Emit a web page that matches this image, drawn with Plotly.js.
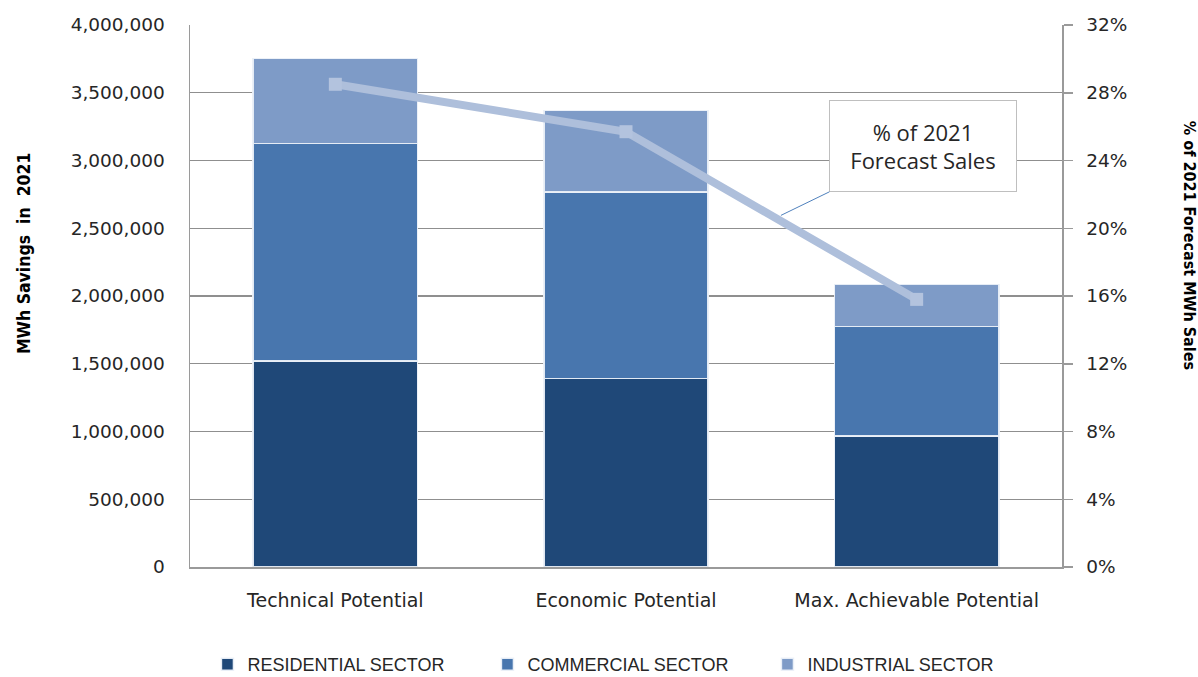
<!DOCTYPE html>
<html>
<head>
<meta charset="utf-8">
<script src="https://cdn.plot.ly/plotly-3.0.1.min.js"></script>
<style>html,body{margin:0;padding:0;background:#fff;}#chart{width:1198px;height:677px;}</style>
</head>
<body>
<div id="chart"></div>
<script>
const categories = ["Technical Potential", "Economic Potential", "Max. Achievable Potential"];
const residential = [1520000, 1390000, 965000];
const commercial = [1605000, 1377000, 809000];
const industrial = [627000, 601000, 312000];
const pctForecastSales = [0.285, 0.257, 0.158];
const seriesNames = ["RESIDENTIAL SECTOR", "COMMERCIAL SECTOR", "INDUSTRIAL SECTOR"];
const leftTickVals = [0, 500000, 1000000, 1500000, 2000000, 2500000, 3000000, 3500000, 4000000];
const rightTickVals = [0, 0.04, 0.08, 0.12, 0.16, 0.20, 0.24, 0.28, 0.32];

const barLine = {color: "rgba(235,240,248,0.95)", width: 1.5};
const traces = [
  {type: "bar", name: seriesNames[0], x: categories, y: residential, marker: {color: "#1F4878", line: barLine}},
  {type: "bar", name: seriesNames[1], x: categories, y: commercial, marker: {color: "#4876AE", line: barLine}},
  {type: "bar", name: seriesNames[2], x: categories, y: industrial, marker: {color: "#7E9BC7", line: barLine}},
  {type: "scatter", mode: "lines+markers", name: "% of 2021 Forecast Sales", x: categories, y: pctForecastSales, yaxis: "y2",
   showlegend: false, line: {color: "#AEBFDB", width: 8}, marker: {symbol: "square", size: 13, color: "#B3C3DE"}}
];

const tickFont = {family: "DejaVu Sans, Verdana, sans-serif", size: 18.5, color: "#262626"};
const catFont = {family: "DejaVu Sans, Verdana, sans-serif", size: 19, color: "#262626"};
const layout = {
  width: 1198, height: 677,
  margin: {l: 190, r: 136, t: 25, b: 110, autoexpand: false},
  paper_bgcolor: "#ffffff", plot_bgcolor: "#ffffff",
  barmode: "stack", bargap: 0.435,
  showlegend: true,
  legend: {orientation: "h", traceorder: "normal", x: 0.02, xanchor: "left", y: -0.214, yanchor: "bottom",
    font: {family: "Liberation Sans, Arial, sans-serif", size: 18, color: "#262626"}, entrywidth: 235, entrywidthmode: "pixels"},
  xaxis: {type: "category", showline: true, linecolor: "#9a9a9a", linewidth: 1.5, showgrid: false, ticks: "",
    tickfont: catFont, ticklabelstandoff: 16, fixedrange: true},
  yaxis: {range: [0, 4000000], tickvals: leftTickVals, tickformat: ",", showline: true, linecolor: "#9a9a9a", linewidth: 1.5,
    showgrid: true, gridcolor: "#8f8f8f", gridwidth: 1.2, zeroline: false, ticks: "outside", ticklen: 0,
    tickfont: tickFont, ticklabelstandoff: 20},
  yaxis2: {range: [0, 0.32], tickvals: rightTickVals, tickformat: ".0%", overlaying: "y", side: "right", showline: true,
    linecolor: "#9a9a9a", linewidth: 1.5, showgrid: false, zeroline: false, ticks: "outside", ticklen: 9, tickcolor: "#9a9a9a",
    tickwidth: 1.5, tickfont: tickFont, ticklabelstandoff: 10},
  annotations: [
    {xref: "paper", yref: "paper", x: -0.191, y: 0.58, xanchor: "center", yanchor: "middle",
     text: "<b>MWh Savings&nbsp;&nbsp;in&nbsp;&nbsp;2021</b>", showarrow: false, textangle: -90,
     font: {family: "DejaVu Sans Condensed, DejaVu Sans, sans-serif", size: 17.5, color: "#000"}},
    {xref: "paper", yref: "paper", x: 1.147, y: 0.594, xanchor: "center", yanchor: "middle",
     text: "<b>% of 2021 Forecast MWh Sales</b>", showarrow: false, textangle: 90,
     font: {family: "DejaVu Sans Condensed, DejaVu Sans, sans-serif", size: 16, color: "#000"}},
    {xref: "x", yref: "y2", x: 1.533, y: 0.2076, ax: 142, ay: -69, text: "% of 2021<br>Forecast Sales", showarrow: true,
     arrowhead: 0, arrowwidth: 1, arrowcolor: "#4F81BD", bgcolor: "#ffffff", bordercolor: "#BFBFBF", borderwidth: 1,
     width: 184, height: 88, font: {family: "Open Sans, Calibri, sans-serif", size: 22, color: "#262626"}}
  ]
};
Plotly.newPlot("chart", traces, layout, {displayModeBar: false, staticPlot: true});
</script>
</body>
</html>
